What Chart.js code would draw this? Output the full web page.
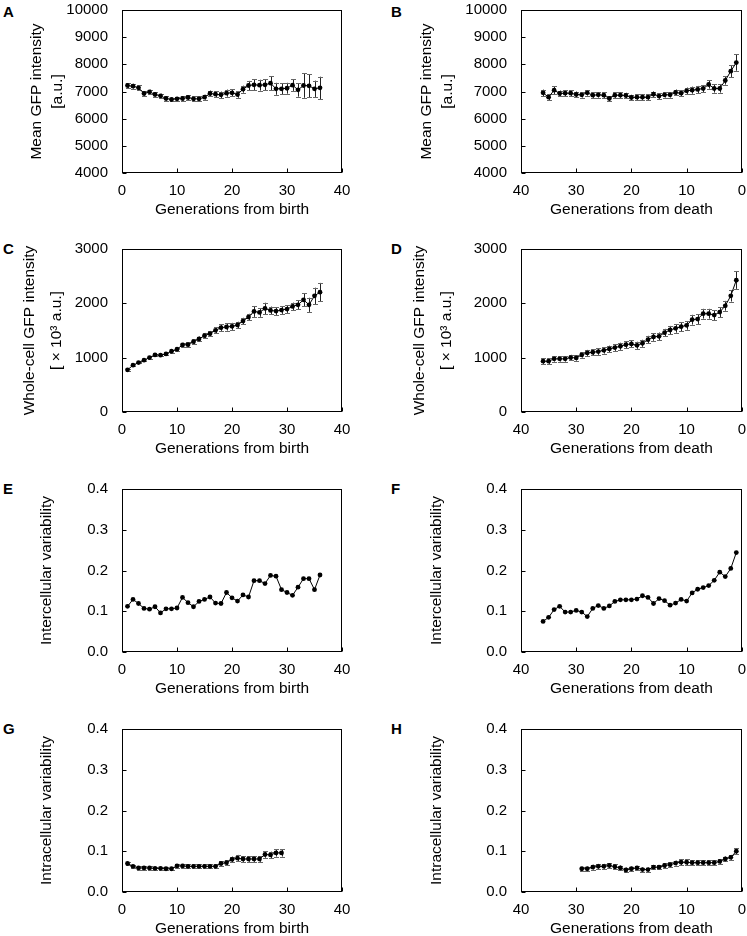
<!DOCTYPE html>
<html>
<head>
<meta charset="utf-8">
<script src="https://cdn.jsdelivr.net/npm/chart.js@4/dist/chart.umd.min.js"></script>
<style>
  body { margin: 0; background: #fff; }
  #fig { position: relative; width: 747px; height: 936px; overflow: hidden; font-family: "Liberation Sans", Arial, sans-serif; }
  .panel { position: absolute; }
  .letra { position: absolute; font-weight: bold; font-size: 15px; line-height: 15px; color: #000; }
</style>
</head>
<body>
<div id="fig">
  <div class="letra" style="left:3px;top:4px">A</div>
  <div class="letra" style="left:391px;top:4px">B</div>
  <div class="letra" style="left:3px;top:241px">C</div>
  <div class="letra" style="left:391px;top:241px">D</div>
  <div class="letra" style="left:3px;top:481px">E</div>
  <div class="letra" style="left:391px;top:481px">F</div>
  <div class="letra" style="left:3px;top:721px">G</div>
  <div class="letra" style="left:391px;top:721px">H</div>

  <canvas id="chartA" class="panel" style="left:0px;top:-5px"></canvas>
  <canvas id="chartB" class="panel" style="left:390px;top:-5px"></canvas>
  <canvas id="chartC" class="panel" style="left:0px;top:234px"></canvas>
  <canvas id="chartD" class="panel" style="left:390px;top:234px"></canvas>
  <canvas id="chartE" class="panel" style="left:0px;top:474px"></canvas>
  <canvas id="chartF" class="panel" style="left:390px;top:474px"></canvas>
  <canvas id="chartG" class="panel" style="left:0px;top:714px"></canvas>
  <canvas id="chartH" class="panel" style="left:390px;top:714px"></canvas>
</div>
<script>
// ===============================
// DATA
// ===============================
const gensBirth = [1,2,3,4,5,6,7,8,9,10,11,12,13,14,15,16,17,18,19,20,21,22,23,24,25,26,27,28,29,30,31,32,33,34,35,36];
const gensDeath = [36,35,34,33,32,31,30,29,28,27,26,25,24,23,22,21,20,19,18,17,16,15,14,13,12,11,10,9,8,7,6,5,4,3,2,1];
const gensBirthG = [1,2,3,4,5,6,7,8,9,10,11,12,13,14,15,16,17,18,19,20,21,22,23,24,25,26,27,28,29];
const gensDeathH = [29,28,27,26,25,24,23,22,21,20,19,18,17,16,15,14,13,12,11,10,9,8,7,6,5,4,3,2,1];

// A: mean GFP vs generations from birth
const meanBirth = [7220,7196,7135,6926,6988,6890,6840,6743,6706,6730,6743,6780,6730,6730,6790,6926,6900,6877,6940,6950,6890,7085,7220,7245,7233,7245,7306,7100,7100,7120,7233,7060,7220,7210,7100,7135];
const meanBirthErr = [90,90,90,80,80,80,80,80,70,70,80,90,90,90,90,110,110,120,130,130,120,130,170,200,200,200,250,220,200,200,210,250,450,420,300,410];

// B: mean GFP vs generations from death
const meanDeath = [6950,6790,7050,6926,6940,6940,6890,6877,6950,6865,6877,6865,6743,6865,6865,6853,6780,6790,6790,6790,6900,6830,6877,6877,6963,6940,7025,7050,7075,7110,7257,7110,7110,7404,7747,8065];
const meanDeathErr = [120,120,150,110,110,110,110,100,100,100,100,100,90,100,100,100,100,100,100,100,100,100,100,100,110,110,120,130,130,130,150,150,150,150,220,300];

// C: whole-cell GFP vs generations from birth
const wholeBirth = [776,861,910,953,1002,1051,1045,1069,1118,1155,1234,1240,1295,1344,1405,1442,1503,1552,1564,1576,1601,1674,1747,1851,1833,1906,1870,1857,1876,1894,1943,1973,2065,1973,2138,2206];
const wholeBirthErr = [15,15,15,20,20,20,20,25,25,30,40,40,45,45,50,50,55,60,65,65,60,60,60,100,80,105,70,70,70,70,70,80,120,130,150,170];

// D: whole-cell GFP vs generations from death
const wholeDeath = [935,935,978,978,978,1002,996,1051,1088,1100,1112,1136,1161,1185,1210,1240,1253,1228,1265,1332,1381,1393,1460,1509,1540,1570,1595,1699,1711,1809,1809,1784,1839,1955,2138,2426];
const wholeDeathErr = [50,50,50,50,50,50,50,50,55,55,60,60,60,60,65,65,65,65,65,70,70,70,70,75,80,80,80,90,90,90,90,90,90,90,105,160];

// E / F: intercellular variability
const interBirth = [0.112,0.129,0.119,0.107,0.105,0.111,0.096,0.106,0.106,0.108,0.134,0.121,0.111,0.124,0.129,0.135,0.120,0.119,0.146,0.133,0.125,0.140,0.135,0.175,0.175,0.168,0.188,0.186,0.153,0.146,0.139,0.159,0.180,0.180,0.153,0.189];
const interDeath = [0.075,0.085,0.104,0.112,0.098,0.098,0.102,0.098,0.087,0.107,0.114,0.107,0.113,0.124,0.128,0.128,0.128,0.130,0.138,0.134,0.119,0.131,0.126,0.115,0.120,0.129,0.125,0.145,0.154,0.158,0.163,0.176,0.196,0.185,0.205,0.244];

// G / H: intracellular variability
const intraBirth = [0.070,0.063,0.059,0.059,0.059,0.058,0.058,0.057,0.057,0.064,0.064,0.063,0.063,0.063,0.063,0.063,0.063,0.070,0.072,0.080,0.083,0.081,0.081,0.081,0.081,0.092,0.091,0.096,0.096];
const intraBirthErr = [0.003,0.003,0.004,0.004,0.004,0.004,0.004,0.004,0.004,0.004,0.005,0.005,0.005,0.005,0.005,0.005,0.005,0.005,0.006,0.007,0.008,0.007,0.007,0.007,0.007,0.008,0.008,0.009,0.009];
const intraDeath = [0.057,0.057,0.061,0.063,0.063,0.065,0.062,0.059,0.054,0.057,0.059,0.055,0.055,0.061,0.061,0.065,0.067,0.071,0.073,0.073,0.072,0.072,0.072,0.072,0.072,0.075,0.081,0.085,0.100];
const intraDeathErr = [0.005,0.005,0.006,0.006,0.006,0.006,0.006,0.006,0.006,0.005,0.005,0.005,0.005,0.005,0.005,0.006,0.006,0.006,0.007,0.007,0.006,0.006,0.006,0.006,0.006,0.006,0.006,0.006,0.007];

const xTicksMin = 0, xTicksMax = 40, xStep = 10;

// ===============================
// SETTINGS
// ===============================
Chart.defaults.font.family = '"Liberation Sans", Arial, sans-serif';
Chart.defaults.color = "#000";

// error bars, frame and inward ticks
const pluginFigura = {
  id: "figura",
  beforeDatasetsDraw(chart) {
    const ds = chart.data.datasets[0];
    if (!ds.errs) return;
    const { ctx, scales: { x, y } } = chart;
    ctx.save();
    ctx.lineWidth = 1;
    ds.data.forEach((p, i) => {
      const e = ds.errs[i];
      const px = Math.round(x.getPixelForValue(p.x)) + 0.5;
      const y1 = y.getPixelForValue(p.y + e);
      const y2 = y.getPixelForValue(p.y - e);
      ctx.strokeStyle = "#222";
      ctx.beginPath();
      ctx.moveTo(px, y1); ctx.lineTo(px, y2);
      ctx.stroke();
      ctx.strokeStyle = "#666";
      ctx.beginPath();
      ctx.moveTo(px - 2.5, Math.round(y1) + 0.5); ctx.lineTo(px + 2.5, Math.round(y1) + 0.5);
      ctx.moveTo(px - 2.5, Math.round(y2) + 0.5); ctx.lineTo(px + 2.5, Math.round(y2) + 0.5);
      ctx.stroke();
    });
    ctx.restore();
  },
  afterDraw(chart) {
    const { ctx, chartArea: a, scales: { x, y } } = chart;
    ctx.save();
    ctx.strokeStyle = "#000";
    ctx.lineWidth = 1;
    const l = Math.round(a.left) + 0.5, r = Math.round(a.right) - 0.5;
    const t = Math.round(a.top) + 0.5, b = Math.round(a.bottom) - 0.5;
    ctx.strokeRect(l, t, r - l, b - t);
    ctx.beginPath();
    y.ticks.forEach(tk => {
      const py = Math.round(y.getPixelForValue(tk.value)) + 0.5;
      ctx.moveTo(l, py); ctx.lineTo(l + 4, py);
    });
    x.ticks.forEach(tk => {
      const px = Math.round(x.getPixelForValue(tk.value)) + 0.5;
      ctx.moveTo(px, b); ctx.lineTo(px, b - 4);
    });
    ctx.stroke();
    ctx.restore();
  }
};

// ===============================
// PANELS
// ===============================
function crearPanel(id, cfg) {
  const canvas = document.getElementById(id);
  const izquierda = cfg.col === 0;
  canvas.width = izquierda ? 360 : 357;
  canvas.height = 245;
  const axisW = izquierda ? 122 : 131;

  return new Chart(canvas, {
    type: "scatter",
    data: {
      datasets: [{
        data: cfg.xs.map((g, i) => ({ x: g, y: cfg.ys[i] })),
        errs: cfg.errs,
        showLine: true,
        borderColor: "#000",
        borderWidth: 1,
        pointRadius: 2.4,
        pointBackgroundColor: "#000",
        pointBorderWidth: 0
      }]
    },
    options: {
      responsive: false,
      animation: false,
      devicePixelRatio: 1,
      layout: { padding: { left: 0, top: 10, right: izquierda ? 18 : 5, bottom: 21 } },
      plugins: { legend: { display: false }, tooltip: { enabled: false } },
      scales: {
        x: {
          type: "linear",
          min: xTicksMin, max: xTicksMax,
          reverse: !!cfg.reverse,
          grid: { display: false },
          border: { display: false },
          ticks: { stepSize: xStep, padding: 1, font: { size: 15 }, callback: v => String(v) },
          title: { display: true, text: cfg.xTitle, font: { size: 15.5 }, padding: { top: 0, bottom: 0 } },
          afterFit: s => { s.height = 46; }
        },
        y: {
          min: cfg.yMin, max: cfg.yMax,
          grid: { display: false },
          border: { display: false },
          ticks: {
            stepSize: cfg.yStep, padding: 6, font: { size: 15 },
            callback: v => cfg.decimals ? v.toFixed(cfg.decimals) : String(v)
          },
          title: {
            display: true, text: cfg.yTitle,
            font: { size: 15.5, lineHeight: cfg.titleLH || 1.35 },
            padding: { top: cfg.titlePad, bottom: 0 }
          },
          afterFit: s => { s.width = axisW; }
        }
      }
    },
    plugins: [pluginFigura]
  });
}

const tituloMean = ["Mean GFP intensity", "[a.u.]"];
const tituloWhole = ["Whole-cell GFP intensity", "[ \u00d7 10\u00b3 a.u.]"];

crearPanel("chartA", { col: 0, xs: gensBirth, ys: meanBirth, errs: meanBirthErr, yMin: 4000, yMax: 10000, yStep: 1000,
  yTitle: tituloMean, xTitle: "Generations from birth", titlePad: 26.5 });
crearPanel("chartB", { col: 1, xs: gensDeath, ys: meanDeath, errs: meanDeathErr, yMin: 4000, yMax: 10000, yStep: 1000,
  yTitle: tituloMean, xTitle: "Generations from death", reverse: true, titlePad: 26.5 });
crearPanel("chartC", { col: 0, xs: gensBirth, ys: wholeBirth, errs: wholeBirthErr, yMin: 0, yMax: 3000, yStep: 1000,
  yTitle: tituloWhole, xTitle: "Generations from birth", titlePad: 16, titleLH: 1.75 });
crearPanel("chartD", { col: 1, xs: gensDeath, ys: wholeDeath, errs: wholeDeathErr, yMin: 0, yMax: 3000, yStep: 1000,
  yTitle: tituloWhole, xTitle: "Generations from death", reverse: true, titlePad: 16, titleLH: 1.75 });
crearPanel("chartE", { col: 0, xs: gensBirth, ys: interBirth, yMin: 0, yMax: 0.4, yStep: 0.1, decimals: 1,
  yTitle: "Intercellular variability", xTitle: "Generations from birth", titlePad: 36.5 });
crearPanel("chartF", { col: 1, xs: gensDeath, ys: interDeath, yMin: 0, yMax: 0.4, yStep: 0.1, decimals: 1,
  yTitle: "Intercellular variability", xTitle: "Generations from death", reverse: true, titlePad: 36.5 });
crearPanel("chartG", { col: 0, xs: gensBirthG, ys: intraBirth, errs: intraBirthErr, yMin: 0, yMax: 0.4, yStep: 0.1, decimals: 1,
  yTitle: "Intracellular variability", xTitle: "Generations from birth", titlePad: 36.5 });
crearPanel("chartH", { col: 1, xs: gensDeathH, ys: intraDeath, errs: intraDeathErr, yMin: 0, yMax: 0.4, yStep: 0.1, decimals: 1,
  yTitle: "Intracellular variability", xTitle: "Generations from death", reverse: true, titlePad: 36.5 });
</script>
</body>
</html>
